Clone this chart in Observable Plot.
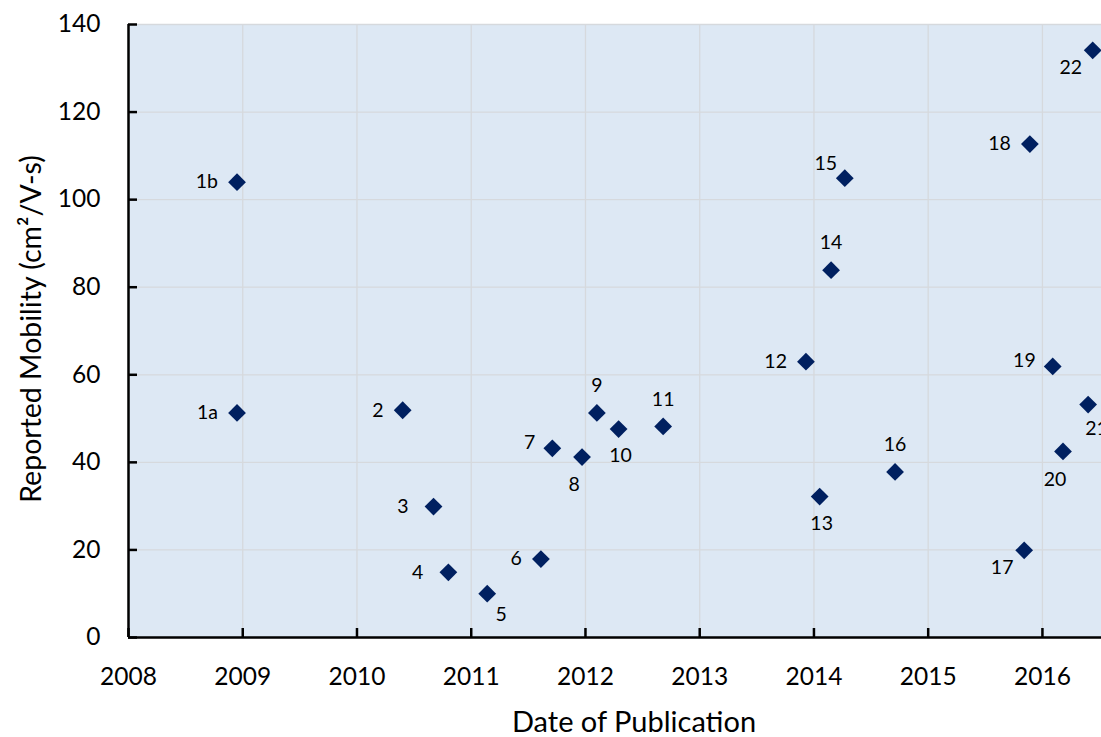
<!DOCTYPE html>
<html>
<head>
<meta charset="utf-8">
<script src="https://cdn.jsdelivr.net/npm/d3@7"></script>
<script src="https://cdn.jsdelivr.net/npm/@observablehq/plot@0.6"></script>
<style>
  html, body { margin: 0; padding: 0; background: #fff; overflow: hidden; }
  #chart svg { display: block; }
</style>
</head>
<body>
<div id="chart"></div>
<script>
// Reference number of each reported device
const refs = ["1b", "1a", "2", "3", "4", "5", "6", "7", "8", "9", "10", "11",
              "12", "13", "14", "15", "16", "17", "18", "19", "20", "21", "22"];
// Publication date (decimal year)
const pubYear = [2008.95, 2008.95, 2010.40, 2010.67, 2010.80, 2011.14, 2011.61, 2011.71,
                 2011.97, 2012.10, 2012.29, 2012.68, 2013.93, 2014.05, 2014.15, 2014.27,
                 2014.71, 2015.84, 2015.89, 2016.09, 2016.18, 2016.40, 2016.44];
// Reported mobility, cm²/V-s
const mobility = [104.0, 51.3, 51.9, 29.9, 14.9, 10.0, 17.9, 43.2, 41.2, 51.3, 47.6, 48.2,
                  63.0, 32.2, 83.9, 104.9, 37.8, 19.9, 112.7, 61.9, 42.5, 53.2, 134.1];
// Where each reference number sits relative to its marker
const labelSpot = ["left", "left", "left", "farLeft", "farLeft", "belowRight", "left", "upLeft",
                   "belowShiftLeft", "above", "below", "above", "left", "below", "above", "aboveLeft",
                   "above", "belowLeft", "left", "upLeft", "belowShiftLeft", "belowNear", "belowLeft"];
// Axis ticks
const xTicks = [2008, 2009, 2010, 2011, 2012, 2013, 2014, 2015, 2016];
const yTicks = [0, 20, 40, 60, 80, 100, 120, 140];

const points = refs.map((id, i) => ({id, year: pubYear[i], mobility: mobility[i], spot: labelSpot[i]}));

const spotOffsets = {
  left:           {dx: -19, dy: 0,   textAnchor: "end"},
  farLeft:        {dx: -25, dy: 0,   textAnchor: "end"},
  upLeft:         {dx: -17, dy: -6,  textAnchor: "end"},
  above:          {dx: 0,   dy: -27, textAnchor: "middle"},
  below:          {dx: 2,   dy: 27,  textAnchor: "middle"},
  belowShiftLeft: {dx: -8,  dy: 28,  textAnchor: "middle"},
  belowRight:     {dx: 14,  dy: 21,  textAnchor: "middle"},
  belowNear:      {dx: -3,  dy: 24,  textAnchor: "start"},
  belowLeft:      {dx: -22, dy: 17,  textAnchor: "middle"},
  aboveLeft:      {dx: -19, dy: -14, textAnchor: "middle"}
};

const W = 1101, H = 737;
const mLeft = 128, mTop = 24, mBottom = 100, mRight = 0;
const innerW = W - mLeft - mRight, innerH = H - mTop - mBottom;
const tickLen = 9;
const ink = "#000000";
const markerColor = "#002060";

const labelMarks = Object.entries(spotOffsets).map(([spot, o]) =>
  Plot.text(points.filter(d => d.spot === spot), {
    x: "year", y: "mobility", text: "id",
    dx: o.dx, dy: o.dy, textAnchor: o.textAnchor, lineAnchor: "middle",
    fontSize: 19.5, fill: ink
  })
);

const chart = Plot.plot({
  width: W,
  height: H,
  marginLeft: mLeft,
  marginRight: mRight,
  marginTop: mTop,
  marginBottom: mBottom,
  style: {fontFamily: "Lato, 'Open Sans', sans-serif", fontSize: "24.5px", color: ink, background: "#fff"},
  x: {domain: [2008, 2016.517], ticks: xTicks, tickFormat: d => String(d), tickSize: 0, tickPadding: 30, label: null},
  y: {domain: [0, 140], ticks: yTicks, tickSize: 0, tickPadding: 28, label: null},
  marks: [
    Plot.frame({fill: "#dde8f4", stroke: "none"}),
    Plot.ruleX(xTicks, {x: d => d, stroke: "#d6d9dd", strokeWidth: 1.3}),
    Plot.ruleY(yTicks, {y: d => d, stroke: "#d6d9dd", strokeWidth: 1.3}),
    // inward tick marks
    Plot.ruleX(xTicks, {x: d => d, insetTop: innerH - tickLen, stroke: ink, strokeWidth: 2.5}),
    Plot.ruleY(yTicks, {y: d => d, insetRight: innerW - tickLen, stroke: ink, strokeWidth: 2.5}),
    // axis lines
    Plot.ruleX([2008], {stroke: ink, strokeWidth: 2.5}),
    Plot.ruleY([0], {stroke: ink, strokeWidth: 2.5}),
    Plot.dot(points, {x: "year", y: "mobility", symbol: "diamond2", r: 8, fill: markerColor, stroke: "none"}),
    ...labelMarks,
    // axis titles
    Plot.text(["Reported Mobility (cm²/V-s)"], {
      frameAnchor: "left", dx: -97, dy: -2, rotate: -90, textAnchor: "middle", lineAnchor: "middle",
      fontSize: 28.5, fill: ink
    }),
    Plot.text(["Date of Publication"], {
      frameAnchor: "bottom", dx: 19, dy: 85, textAnchor: "middle", lineAnchor: "middle",
      fontSize: 29, fill: ink
    })
  ]
});

document.getElementById("chart").appendChild(chart);
</script>
</body>
</html>
